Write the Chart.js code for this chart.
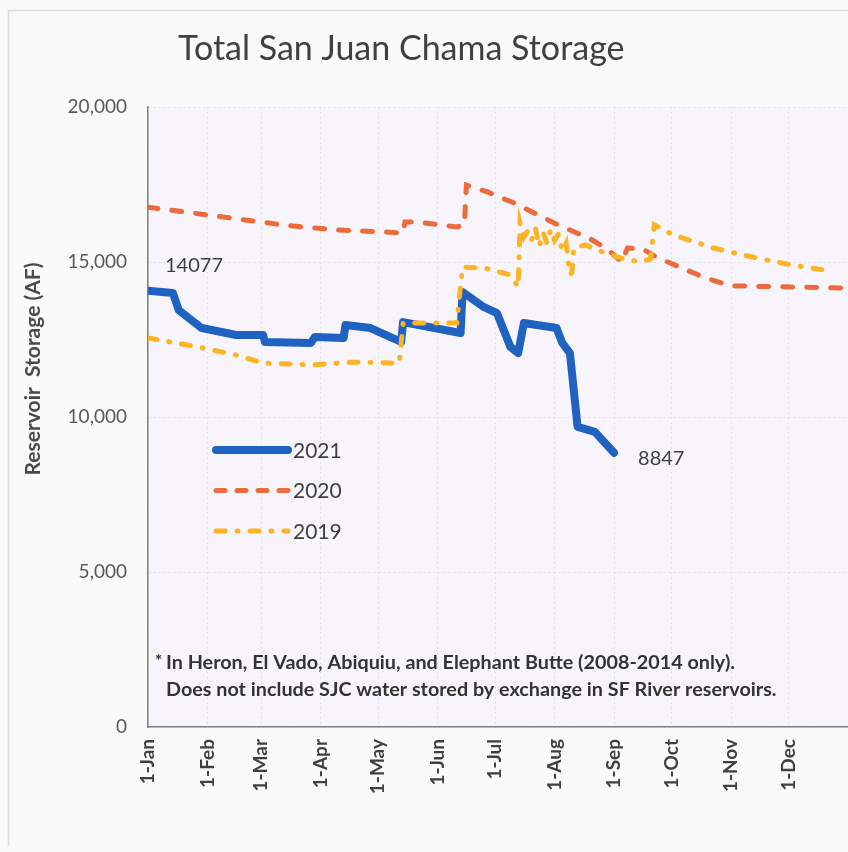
<!DOCTYPE html>
<html>
<head>
<meta charset="utf-8">
<script src="https://cdn.jsdelivr.net/npm/chart.js@4"></script>
<style>
  body { margin: 0; background: #fafafa; }
  canvas { display: block; }
</style>
</head>
<body>
<canvas id="storageChart" width="848" height="852"></canvas>
<script>
// --- data (day of year from 1-Jan, storage in AF) ---
const monthDays = [0, 31, 59, 90, 120, 151, 181, 212, 243, 273, 304, 334];
const monthLabels = ['1-Jan', '1-Feb', '1-Mar', '1-Apr', '1-May', '1-Jun', '1-Jul', '1-Aug', '1-Sep', '1-Oct', '1-Nov', '1-Dec'];
const yTicks = [0, 5000, 10000, 15000, 20000];

const days2021 = [0, 13, 16, 28, 46, 60, 61, 85, 87, 102, 103, 116, 132, 133, 163, 164, 175, 182, 189, 193, 196, 213, 216, 220, 224, 233, 243];
const storage2021 = [14077, 14000, 13450, 12870, 12645, 12645, 12420, 12390, 12580, 12550, 12970, 12870, 12420, 13060, 12710, 14030, 13550, 13350, 12260, 12060, 13030, 12870, 12390, 12060, 9680, 9520, 8847];

const days2020 = [0, 43, 71, 99, 123, 133, 134, 140, 161, 165, 166, 177, 191, 214, 230, 240, 247, 250, 258, 265, 290, 304, 365];
const storage2020 = [16770, 16420, 16190, 16030, 15970, 15935, 16290, 16290, 16130, 16200, 17480, 17260, 16900, 16190, 15770, 15390, 15000, 15450, 15420, 15160, 14500, 14230, 14160];

const days2019 = [0, 26, 46, 60, 86, 106, 131, 133, 161, 164, 176, 189, 193, 194, 196, 198, 200, 202, 204, 206, 208, 210, 212, 214, 216, 218, 220, 221, 222, 228, 238, 248, 257, 262, 264, 274, 295, 315, 336, 357];
const storage2019 = [12550, 12260, 12000, 11740, 11680, 11770, 11740, 13030, 13030, 14840, 14800, 14580, 14190, 16260, 15800, 16000, 15700, 16100, 15500, 15950, 15600, 16050, 15700, 15900, 15350, 15600, 14600, 14650, 15450, 15550, 15300, 15100, 15000, 15100, 16200, 15870, 15450, 15160, 14900, 14700];

const BLUE = '#2062c2';
const RED = '#ec6a3c';
const YELLOW = '#fcb324';
const TEXT = '#404040';
const FONT = 'Lato, "Open Sans", sans-serif';

function toPoints(days, vals) {
    return days.map((d, i) => ({ x: d, y: vals[i] }));
}

// fills behind the plot
const backdrop = {
    id: 'backdrop',
    beforeDraw(chart) {
        const c = chart.ctx, a = chart.chartArea;
        c.save();
        c.fillStyle = '#fafafa';
        c.fillRect(0, 0, chart.width, chart.height);
        c.strokeStyle = '#dcdcdc';
        c.lineWidth = 1.5;
        c.beginPath();
        c.moveTo(8.5, chart.height - 6);
        c.lineTo(8.5, 10.5);
        c.lineTo(chart.width, 10.5);
        c.stroke();
        c.fillStyle = '#f7f5fb';
        c.fillRect(a.left, a.top, a.right - a.left, a.bottom - a.top);
        c.restore();
    }
};

// title, axis title, footnote, value labels, legend
const annotations = {
    id: 'annotations',
    afterDraw(chart) {
        const c = chart.ctx, a = chart.chartArea;
        const xs = chart.scales.x, ys = chart.scales.y;
        c.save();
        c.fillStyle = TEXT;
        c.textBaseline = 'middle';

        c.font = '34px ' + FONT;
        c.textAlign = 'left';
        c.fillText('Total San Juan Chama Storage', 178, 49);

        c.save();
        c.translate(33, 369);
        c.rotate(-Math.PI / 2);
        c.textAlign = 'center';
        c.font = 'bold 21px ' + FONT;
        c.fillStyle = '#4a4a4a';
        c.fillText('Reservoir  Storage (AF)', 0, 0);
        c.restore();

        // first/last 2021 values
        c.font = '20px ' + FONT;
        c.textAlign = 'left';
        const x0 = xs.getPixelForValue(days2021[0]);
        const y0 = ys.getPixelForValue(storage2021[0]);
        c.fillText(String(storage2021[0]), x0 + 17, y0 - 25);
        const n = days2021.length - 1;
        const x1 = xs.getPixelForValue(days2021[n]);
        const y1 = ys.getPixelForValue(storage2021[n]);
        c.fillText(String(storage2021[n]), x1 + 24, y1 + 6);

        // footnote
        c.fillStyle = '#333333';
        c.font = 'bold 19px ' + FONT;
        const line1 = 'In Heron, El Vado, Abiquiu, and Elephant Butte (2008-2014 only).';
        const line2 = 'Does not include SJC water stored by exchange in SF River reservoirs.';
        const sx = 569 / c.measureText(line1).width;
        c.save();
        c.translate(a.left + 18, a.top + 556);
        c.scale(sx, 1);
        c.fillText(line1, 0, 0);
        c.fillText(line2, 0, 27);
        c.restore();
        c.font = 'bold 17px ' + FONT;
        c.fillText('*', a.left + 7, a.top + 555);

        // legend
        const items = [
            { label: '2021', color: BLUE, width: 8, dash: [] },
            { label: '2020', color: RED, width: 5, dash: [9, 12] },
            { label: '2019', color: YELLOW, width: 5, dash: [9, 12, 1, 12] }
        ];
        items.forEach((it, i) => {
            const y = a.top + 343 + i * 40.5;
            c.strokeStyle = it.color;
            c.lineWidth = it.width;
            c.lineCap = 'round';
            c.setLineDash(it.dash);
            c.beginPath();
            c.moveTo(a.left + 68, y);
            c.lineTo(a.left + 140, y);
            c.stroke();
            c.setLineDash([]);
            c.fillStyle = TEXT;
            c.font = '21px ' + FONT;
            c.fillText(it.label, a.left + 145, y + 1);
        });
        c.restore();
    }
};

const ctx = document.getElementById('storageChart').getContext('2d');
const chart = new Chart(ctx, {
    type: 'line',
    data: {
        datasets: [
            { label: '2019', data: toPoints(days2019, storage2019), borderColor: YELLOW, borderWidth: 5,
              borderDash: [9, 12, 1, 12], borderCapStyle: 'round', pointRadius: 0, tension: 0 },
            { label: '2020', data: toPoints(days2020, storage2020), borderColor: RED, borderWidth: 5,
              borderDash: [10, 14], borderCapStyle: 'round', pointRadius: 0, tension: 0 },
            { label: '2021', data: toPoints(days2021, storage2021), borderColor: BLUE, borderWidth: 8,
              borderCapStyle: 'round', borderJoinStyle: 'round', pointRadius: 0, tension: 0 }
        ]
    },
    options: {
        responsive: false,
        animation: false,
        layout: { padding: { top: 107, right: 0, left: 0, bottom: 0 } },
        plugins: { legend: { display: false }, tooltip: { enabled: false } },
        scales: {
            x: {
                type: 'linear', min: 0, max: 365,
                afterBuildTicks: (s) => { s.ticks = monthDays.map(v => ({ value: v })); },
                afterFit: (s) => { s.height = 125; },
                ticks: {
                    minRotation: 90, maxRotation: 90, padding: 12,
                    color: TEXT, font: { family: FONT, size: 19, weight: 'bold' },
                    callback: (v) => monthLabels[monthDays.indexOf(v)]
                },
                grid: { color: 'rgba(205,205,228,0.55)', drawTicks: false },
                border: { color: '#7f7f7f', width: 1.5, dash: [2, 3] }
            },
            y: {
                min: 0, max: 20000,
                afterBuildTicks: (s) => { s.ticks = yTicks.map(v => ({ value: v })); },
                afterFit: (s) => { s.width = 148; },
                ticks: {
                    padding: 21, color: '#595959', font: { family: FONT, size: 19 },
                    callback: (v) => v.toLocaleString('en-US')
                },
                grid: { color: 'rgba(205,205,228,0.55)', drawTicks: false },
                border: { color: '#7f7f7f', width: 1.5, dash: [2, 3] }
            }
        }
    },
    plugins: [backdrop, annotations]
});
</script>
</body>
</html>
